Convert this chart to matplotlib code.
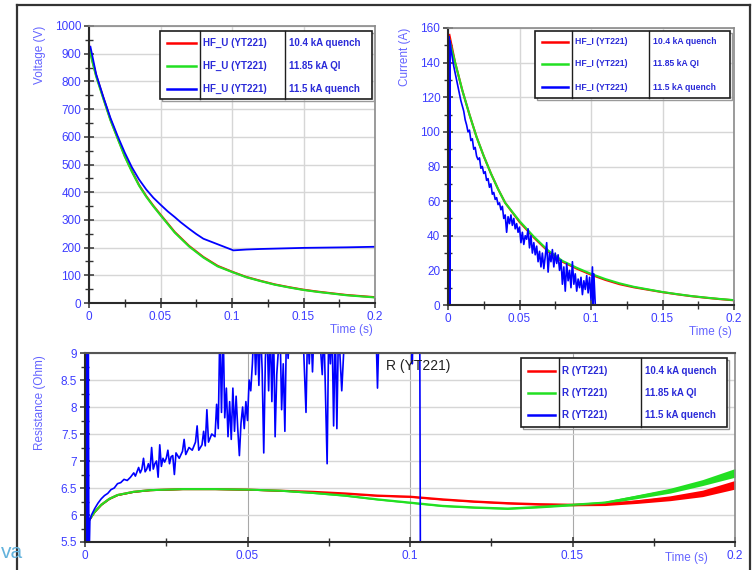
import matplotlib.pyplot as plt
from matplotlib.lines import Line2D
from matplotlib.patches import Rectangle
from matplotlib.ticker import MultipleLocator, FormatStrFormatter

plt.rcParams['font.family'] = ['Liberation Sans', 'DejaVu Sans']

W, H = 753, 570
RED, GREEN, BLUE = '#ff0000', '#22e022', '#0000ff'
TICK = '#3c3cff'
LABEL = '#6464ff'
LEG = '#2a2ad8'

# ---- voltage HF_U (YT221) ----
u_t = [0, 0.0025, 0.005, 0.01, 0.015, 0.02, 0.025, 0.03, 0.035, 0.04, 0.045, 0.05,
       0.06, 0.07, 0.08, 0.09, 0.1, 0.11, 0.12, 0.13, 0.14, 0.15, 0.16, 0.17,
       0.18, 0.19, 0.2]
u_red = [932, 872, 822, 741, 662, 596, 531, 476, 426, 386, 351, 319,
         256, 206, 166, 134, 113, 94, 80, 67, 57, 48, 41, 35, 29, 25, 21]
u_green = [925, 868, 818, 738, 660, 594, 529, 474, 424, 384, 349, 317,
           254, 204, 164, 132, 112, 93, 79, 66, 56, 47, 40, 34, 28, 24, 20]
u_blue_t = [0.001, 0.005, 0.01, 0.015, 0.02, 0.025, 0.03, 0.035, 0.04, 0.045, 0.05,
            0.055, 0.06, 0.064, 0.07, 0.075, 0.08, 0.09, 0.101, 0.11, 0.12,
            0.15, 0.18, 0.2]
u_blue = [925, 826, 744, 668, 603, 543, 490, 446, 410, 380, 355,
          331, 310, 292, 268, 249, 232, 212, 190, 193, 195, 199, 201, 203]

# ---- current HF_I (YT221) ----
i_t = [0.001, 0.005, 0.01, 0.015, 0.02, 0.025, 0.03, 0.035, 0.04, 0.05, 0.06,
       0.07, 0.08, 0.09, 0.1, 0.11, 0.12, 0.13, 0.14, 0.15, 0.16, 0.17, 0.18,
       0.19, 0.2]
i_red = [156, 140, 124, 110, 97, 86, 76, 67, 59, 48, 39,
         31, 25, 21, 17.5, 14.5, 12, 10.2, 8.8, 7.4, 6.2, 5.1, 4.2, 3.4, 2.7]
i_green = [153, 140, 124, 110, 97, 86, 76, 67, 59, 48.5, 39.5,
           31.5, 25.5, 21.5, 18, 15, 12.5, 10.5, 9, 7.5, 6.3, 5.2, 4.3, 3.5, 2.8]
i_blue_t = [0.0005, 0.0007, 0.0009, 0.0011, 0.0013, 0.0015, 0.002, 0.003, 0.004,
            0.005, 0.006, 0.007, 0.008, 0.009, 0.010, 0.011, 0.012, 0.013, 0.014,
            0.015, 0.016, 0.017, 0.018, 0.019, 0.020, 0.021, 0.022, 0.023, 0.024,
            0.025, 0.026, 0.027, 0.028, 0.029, 0.030, 0.031, 0.032, 0.033, 0.034,
            0.035, 0.036, 0.037, 0.038, 0.039, 0.040, 0.041, 0.042, 0.043, 0.044,
            0.045, 0.046, 0.047, 0.048, 0.049, 0.050, 0.051, 0.052, 0.053, 0.054,
            0.055, 0.056, 0.057, 0.058, 0.059, 0.060, 0.061, 0.062, 0.063, 0.064,
            0.065, 0.066, 0.067, 0.068, 0.069, 0.070, 0.071, 0.072, 0.073, 0.074,
            0.075, 0.076, 0.077, 0.078, 0.079, 0.080, 0.081, 0.082, 0.083, 0.084,
            0.085, 0.086, 0.087, 0.088, 0.089, 0.090, 0.091, 0.092, 0.093, 0.094,
            0.095, 0.096, 0.097, 0.098, 0.099, 0.100, 0.101, 0.1015, 0.102, 0.103]
i_blue = [0, 155, 0, 153, 0, 152, 148, 143, 138,
          134, 130, 126, 122, 118, 115, 112, 107, 104, 100,
          101, 95, 96, 90, 91, 86, 84, 85, 79, 80,
          76, 77, 72, 73, 68, 70, 64, 65, 61, 62,
          58, 59, 55, 57, 50, 52, 42, 51, 47, 52,
          46, 50, 44, 47, 42, 45, 36, 42, 35, 40,
          38, 44, 33, 40, 30, 36, 29, 34, 25, 31,
          22, 30, 21, 28, 36, 19, 30, 25, 32, 22,
          30, 24, 29, 20, 26, 12, 22, 8, 24, 14,
          20, 10, 25, 12, 18, 8, 15, 10, 16, 6,
          14, 9, 17, 7, 16, 3, 22, 0, 18, 0]

# ---- resistance R (YT221) ----
r_t = [0.001, 0.002, 0.003, 0.005, 0.0075, 0.01, 0.015, 0.02, 0.025, 0.03, 0.04,
       0.05, 0.06, 0.07, 0.08, 0.09, 0.1, 0.11, 0.12, 0.13, 0.14, 0.15, 0.16,
       0.17, 0.18, 0.19, 0.2]
r_red = [5.88, 5.97, 6.06, 6.19, 6.30, 6.37, 6.43, 6.46, 6.47, 6.48, 6.48,
         6.47, 6.45, 6.43, 6.40, 6.36, 6.34, 6.29, 6.25, 6.22, 6.20, 6.19, 6.20,
         6.25, 6.31, 6.40, 6.56]
r_red_spread = [0.01, 0.01, 0.01, 0.01, 0.01, 0.01, 0.01, 0.01, 0.01, 0.01, 0.01,
                0.01, 0.01, 0.012, 0.014, 0.015, 0.015, 0.016, 0.016, 0.017, 0.018,
                0.02, 0.025, 0.035, 0.045, 0.06, 0.08]
r_green = [5.88, 5.97, 6.06, 6.19, 6.30, 6.37, 6.43, 6.46, 6.47, 6.48, 6.48,
           6.47, 6.45, 6.41, 6.36, 6.29, 6.23, 6.17, 6.14, 6.12, 6.15, 6.19, 6.23,
           6.34, 6.45, 6.60, 6.78]
r_green_spread = [0.01, 0.01, 0.01, 0.01, 0.01, 0.01, 0.01, 0.01, 0.01, 0.01, 0.01,
                  0.01, 0.01, 0.012, 0.014, 0.015, 0.015, 0.016, 0.016, 0.017, 0.018,
                  0.02, 0.025, 0.035, 0.045, 0.055, 0.08]
r_blue_t = [0, 0.0002, 0.0004, 0.0006, 0.0008, 0.001, 0.0012, 0.0015, 0.002, 0.003,
            0.004, 0.005, 0.006, 0.007, 0.008, 0.009, 0.010, 0.011, 0.012, 0.013,
            0.014, 0.015, 0.0155, 0.016, 0.0165, 0.017, 0.0175, 0.018, 0.0185,
            0.019, 0.0195, 0.020, 0.0205, 0.021, 0.0215, 0.022, 0.0225, 0.023,
            0.0235, 0.024, 0.0245, 0.025, 0.0255, 0.026, 0.0265, 0.027, 0.0275,
            0.028, 0.029, 0.030, 0.0305, 0.031, 0.032, 0.033, 0.034, 0.0345, 0.035,
            0.036, 0.0365, 0.037, 0.0375, 0.038, 0.039, 0.040, 0.0405, 0.041,
            0.0415, 0.042, 0.0425, 0.043, 0.0435, 0.044, 0.0445, 0.045, 0.0455,
            0.046, 0.0465, 0.047, 0.0475, 0.048, 0.0485, 0.049, 0.0495, 0.050,
            0.0505, 0.051, 0.0515, 0.052, 0.0525, 0.053, 0.0535, 0.054, 0.0545,
            0.055, 0.0555, 0.056, 0.0565, 0.057, 0.0575, 0.058, 0.0585, 0.059,
            0.060, 0.0605, 0.061, 0.0615, 0.062, 0.0625, 0.063, 0.064, 0.066,
            0.067, 0.068, 0.0685, 0.069, 0.0695, 0.070, 0.0705, 0.072, 0.073,
            0.0735, 0.0745, 0.075, 0.0755, 0.076, 0.0765, 0.077, 0.0775, 0.078,
            0.079, 0.080, 0.0895, 0.090, 0.0905, 0.1005, 0.1007, 0.101, 0.1030,
            0.1032]
r_blue = [5.0, 10, 5.0, 10, 5.0, 10, 5.0, 5.90, 6.00, 6.12,
          6.22, 6.30, 6.36, 6.40, 6.47, 6.50, 6.58, 6.60, 6.66, 6.64,
          6.70, 6.78, 6.72, 6.80, 6.88, 6.78, 6.85, 7.05, 6.80,
          6.85, 6.95, 6.82, 7.25, 6.85, 6.95, 7.00, 6.70, 7.30,
          6.90, 7.05, 6.98, 7.05, 7.20, 6.95, 7.08, 7.10, 6.75,
          7.15, 7.05, 7.18, 7.40, 7.12, 7.25, 7.20, 7.35, 7.65, 7.20,
          7.30, 7.55, 7.28, 7.95, 7.35, 7.50, 7.45, 8.05, 7.60,
          9.5, 7.90, 9.5, 7.80, 8.35, 7.45, 8.10, 7.40, 8.35,
          7.55, 8.20, 7.60, 7.10, 7.70, 8.00, 7.60, 8.10, 7.75,
          8.50, 8.30, 8.80, 9.5, 8.60, 9.5, 8.40, 9.5, 8.70,
          7.15, 8.90, 9.5, 8.30, 9.5, 8.10, 9.5, 7.45, 8.60,
          9.5, 7.95, 8.80, 7.55, 9.5, 8.90, 9.5, 9.5, 9.5,
          9.5, 7.90, 9.5, 8.80, 9.5, 8.65, 9.5, 9.5, 8.60,
          9.5, 6.95, 9.5, 8.80, 9.5, 7.65, 9.5, 7.60, 9.5,
          8.30, 9.5, 9.5, 8.35, 9.5, 9.5, 8.80, 9.5, 9.5,
          5.0]

u_names = ['HF_U (YT221)'] * 3
i_names = ['HF_I (YT221)'] * 3
r_names = ['R (YT221)'] * 3
cases = ['10.4 kA quench', '11.85 kA QI', '11.5 kA quench']


def px(x, y):
    return x / W, 1 - y / H


def add_axes(fig, left, top, right, bottom):
    x0, y0 = px(left, bottom)
    return fig.add_axes([x0, y0, (right - left) / W, (bottom - top) / H])


def style(ax, ymaj, ymin, yfmt):
    ax.set_xlim(0, 0.2)
    ax.xaxis.set_major_locator(MultipleLocator(0.05))
    ax.xaxis.set_minor_locator(MultipleLocator(0.025))
    ax.yaxis.set_major_locator(MultipleLocator(ymaj))
    ax.yaxis.set_minor_locator(MultipleLocator(ymin))
    ax.xaxis.set_major_formatter(FormatStrFormatter('%g'))
    ax.yaxis.set_major_formatter(FormatStrFormatter(yfmt))
    ax.grid(True, which='major', color='#d6d6d6', lw=1.0)
    ax.set_axisbelow(True)
    ax.tick_params(which='both', direction='inout', color='#333333',
                   labelcolor=TICK, labelsize=8.5, top=False, right=False)
    ax.tick_params(which='major', length=7, width=1.1, pad=2)
    ax.tick_params(which='minor', length=6, width=1.0)
    for s in ('left', 'bottom'):
        ax.spines[s].set_color('#2a2a2a')
        ax.spines[s].set_linewidth(1.5)
    for s in ('top', 'right'):
        ax.spines[s].set_color('#8a8a8a')
        ax.spines[s].set_linewidth(1.2)


def table_legend(fig, box, seps, rows, names, fs):
    x0, y0, x1, y1 = box
    fig.add_artist(Rectangle(px(x0 + 2, y1 + 2), (x1 - x0) / W, (y1 - y0) / H,
                             transform=fig.transFigure, fc='none', ec='#9a9a9a',
                             lw=1.0, zorder=4))
    fig.add_artist(Rectangle(px(x0, y1), (x1 - x0) / W, (y1 - y0) / H,
                             transform=fig.transFigure, fc='white', ec='#1e1e1e',
                             lw=1.2, zorder=5))
    for s in seps:
        fig.add_artist(Line2D([s / W, s / W], [1 - y0 / H, 1 - y1 / H],
                              transform=fig.transFigure, color='#1e1e1e',
                              lw=1.0, zorder=6))
    for color, name, case, ry in zip([RED, GREEN, BLUE], names, cases, rows):
        fig.add_artist(Line2D([(x0 + 7) / W, (seps[0] - 4) / W], [1 - ry / H] * 2,
                              transform=fig.transFigure, color=color, lw=1.8,
                              zorder=6))
        fig.text((seps[0] + 3) / W, 1 - ry / H, name, color=LEG, fontsize=fs,
                 fontweight='bold', va='center', zorder=7)
        fig.text((seps[1] + 4) / W, 1 - ry / H, case, color=LEG, fontsize=fs,
                 fontweight='bold', va='center', zorder=7)


fig = plt.figure(figsize=(W / 100, H / 100), dpi=100)

# voltage
ax1 = add_axes(fig, 89, 26, 375, 303)
ax1.plot(u_t, u_red, color=RED, lw=1.5)
ax1.plot(u_t, u_green, color=GREEN, lw=1.5)
ax1.plot(u_blue_t, u_blue, color=BLUE, lw=1.3)
ax1.set_ylim(0, 1000)
style(ax1, 100, 50, '%g')
fig.text(40 / W, 1 - 26 / H, 'Voltage (V)', rotation=90, color=LABEL,
         fontsize=8.5, ha='center', va='top')
fig.text(373 / W, 1 - 330 / H, 'Time (s)', color=LABEL, fontsize=8.5,
         ha='right', va='center')
table_legend(fig, (160, 31, 372, 99), (200, 285), (43, 66, 89), u_names, 7)

# current
ax2 = add_axes(fig, 448, 28, 734, 305)
ax2.plot(i_t, i_red, color=RED, lw=1.5)
ax2.plot(i_t, i_green, color=GREEN, lw=1.5)
ax2.plot(i_blue_t, i_blue, color=BLUE, lw=1.2)
ax2.set_ylim(0, 160)
style(ax2, 20, 10, '%g')
fig.text(405 / W, 1 - 28 / H, 'Current (A)', rotation=90, color=LABEL,
         fontsize=8.5, ha='center', va='top')
fig.text(732 / W, 1 - 332 / H, 'Time (s)', color=LABEL, fontsize=8.5,
         ha='right', va='center')
table_legend(fig, (535, 31, 730, 98), (572, 649), (42, 64, 87), i_names, 6.2)

# resistance
ax3 = add_axes(fig, 85, 353, 735, 542)
ax3.fill_between(r_t, [a - b for a, b in zip(r_red, r_red_spread)],
                 [a + b for a, b in zip(r_red, r_red_spread)], color=RED, lw=0)
ax3.plot(r_t, r_red, color=RED, lw=1.5)
ax3.fill_between(r_t, [a - b for a, b in zip(r_green, r_green_spread)],
                 [a + b for a, b in zip(r_green, r_green_spread)], color=GREEN, lw=0)
ax3.plot(r_t, r_green, color=GREEN, lw=1.5)
ax3.plot(r_blue_t, r_blue, color=BLUE, lw=1.2)
ax3.set_ylim(5.5, 9)
style(ax3, 0.5, 0.25, '%g')
ax3.grid(True, axis='x', which='major', color='#a8a8a8', lw=0.8)
ax3.spines['top'].set_color('#555555')
ax3.spines['top'].set_linewidth(1.5)
fig.text(40 / W, 1 - 355 / H, 'Resistance (Ohm)', rotation=90, color=LABEL,
         fontsize=8.5, ha='center', va='top')
fig.text(708 / W, 1 - 558 / H, 'Time (s)', color=LABEL, fontsize=8.5,
         ha='right', va='center')
fig.text(386 / W, 1 - 366 / H, 'R (YT221)', color='#222222', fontsize=10,
         ha='left', va='center', zorder=3)
table_legend(fig, (521, 358, 727, 427), (559, 641), (371, 393, 415), r_names, 7)

# slide frame and logo fragment
for xs, ys in [((17, 17), (5, 570)), ((17, 750), (5, 5)), ((750, 750), (5, 570))]:
    fig.add_artist(Line2D([x / W for x in xs], [1 - y / H for y in ys],
                          transform=fig.transFigure, color='#333333', lw=1.6))
fig.text(0.5 / W, 1 - 553 / H, 'va', color='#62b2dc', fontsize=15,
         ha='left', va='center')

fig.savefig('out.png', dpi=100)
